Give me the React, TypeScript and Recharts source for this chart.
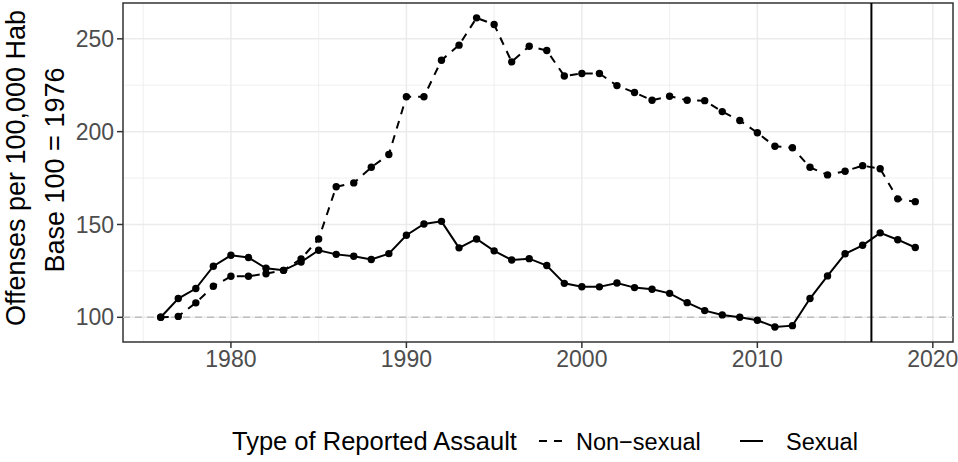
import React from 'react';
import { LineChart, Line, XAxis, YAxis, CartesianGrid, ReferenceLine, ReferenceArea } from 'recharts';

const years = [1976,1977,1978,1979,1980,1981,1982,1983,1984,1985,1986,1987,1988,1989,1990,1991,1992,1993,1994,1995,1996,1997,1998,1999,2000,2001,2002,2003,2004,2005,2006,2007,2008,2009,2010,2011,2012,2013,2014,2015,2016,2017,2018,2019];
const nonSexual = [100,100.5,107.8,116.7,122.1,122.1,123.5,125.3,131.5,142.2,170.3,172.4,180.8,187.7,218.8,218.8,238.5,246.6,261.3,257.7,237.6,246.0,243.7,230.0,231.3,231.3,224.8,221.1,216.9,219.1,216.9,216.7,210.8,206.0,199.4,192.1,191.3,180.8,176.7,178.7,181.7,180.0,163.8,162.3];
const sexual = [100,110.1,115.5,127.5,133.4,132.2,126.4,125.3,129.8,136.1,133.9,132.9,131.1,134.3,144.2,150.3,151.7,137.4,142.2,135.8,130.9,131.6,127.9,118.3,116.5,116.4,118.5,116.0,115.1,112.9,107.9,103.6,101.3,100.0,98.4,94.8,95.5,110.1,122.3,134.2,138.8,145.5,141.8,137.6];

const xTicks = [1980, 1990, 2000, 2010, 2020];
const xMinor = [1975, 1985, 1995, 2005, 2015];
const yTicks = [100, 150, 200, 250];
const yMinor = [125, 175, 225];
const xDomain = [1973.85, 2021.15];
const yDomain = [86.7, 269.3];
const baseLine = 100;
const markerYear = 2016.5;

const yTitle1 = 'Offenses per 100,000 Hab';
const yTitle2 = 'Base 100 = 1976';
const legendTitle = 'Type of Reported Assault';
const legendLabels = ['Non\u2212sexual', 'Sexual'];

const data = years.map((year, i) => ({ year, nonSexual: nonSexual[i], sexual: sexual[i] }));

const FONT = '"Liberation Sans", Arial, Helvetica, sans-serif';

export default function App() {
  return (
    <div style={{ position: 'absolute', left: 0, top: 0, width: 958, height: 462, background: '#fff' }}>
      <LineChart width={958} height={462} data={data} margin={{ top: 3, right: 5, bottom: 80, left: 0 }}>
        <CartesianGrid verticalValues={xMinor} horizontalValues={yMinor} stroke="#EBEBEB" strokeWidth={0.8} />
        <CartesianGrid verticalValues={xTicks} horizontalValues={yTicks} stroke="#EBEBEB" strokeWidth={1.5} />
        <XAxis
          type="number"
          dataKey="year"
          domain={xDomain}
          allowDataOverflow
          ticks={xTicks}
          axisLine={false}
          tickSize={6}
          tickMargin={3}
          tickLine={{ stroke: '#333333', strokeWidth: 1.5 }}
          tick={{ fill: '#4D4D4D', fontSize: 23, fontFamily: FONT }}
          height={40}
        />
        <YAxis
          type="number"
          domain={yDomain}
          allowDataOverflow
          ticks={yTicks}
          axisLine={false}
          tickSize={6}
          tickMargin={3}
          tickLine={{ stroke: '#333333', strokeWidth: 1.5 }}
          tick={{ fill: '#4D4D4D', fontSize: 23, fontFamily: FONT }}
          width={123}
        />
        <ReferenceLine y={baseLine} stroke="#BEBEBE" strokeWidth={1.5} strokeDasharray="7 5" />
        <Line
          type="linear"
          dataKey="nonSexual"
          stroke="#000"
          strokeWidth={2}
          strokeDasharray="8 7"
          dot={{ r: 3.7, fill: '#000', stroke: 'none' }}
          isAnimationActive={false}
        />
        <Line
          type="linear"
          dataKey="sexual"
          stroke="#000"
          strokeWidth={2}
          dot={{ r: 3.7, fill: '#000', stroke: 'none' }}
          isAnimationActive={false}
        />
        <ReferenceLine x={markerYear} stroke="#000" strokeWidth={2} />
        <ReferenceArea x1={xDomain[0]} x2={xDomain[1]} y1={yDomain[0]} y2={yDomain[1]} fill="none" stroke="#333333" strokeWidth={1.5} />
      </LineChart>
      <svg width={958} height={462} style={{ position: 'absolute', left: 0, top: 0, pointerEvents: 'none' }}>
        <text transform="translate(25,168) rotate(-90)" textAnchor="middle" fontSize={27} fontFamily={FONT} fill="#000">{yTitle1}</text>
        <text transform="translate(64,170) rotate(-90)" textAnchor="middle" fontSize={27} fontFamily={FONT} fill="#000">{yTitle2}</text>
        <text x={232} y={450} fontSize={25.5} fontFamily={FONT} fill="#000">{legendTitle}</text>
        <line x1={539} x2={562} y1={441} y2={441} stroke="#000" strokeWidth={2} strokeDasharray="8 7" />
        <text x={576} y={450} fontSize={23.5} fontFamily={FONT} fill="#000">{legendLabels[0]}</text>
        <line x1={740} x2={763} y1={441} y2={441} stroke="#000" strokeWidth={2} />
        <text x={786} y={450} fontSize={23.5} fontFamily={FONT} fill="#000">{legendLabels[1]}</text>
      </svg>
    </div>
  );
}
